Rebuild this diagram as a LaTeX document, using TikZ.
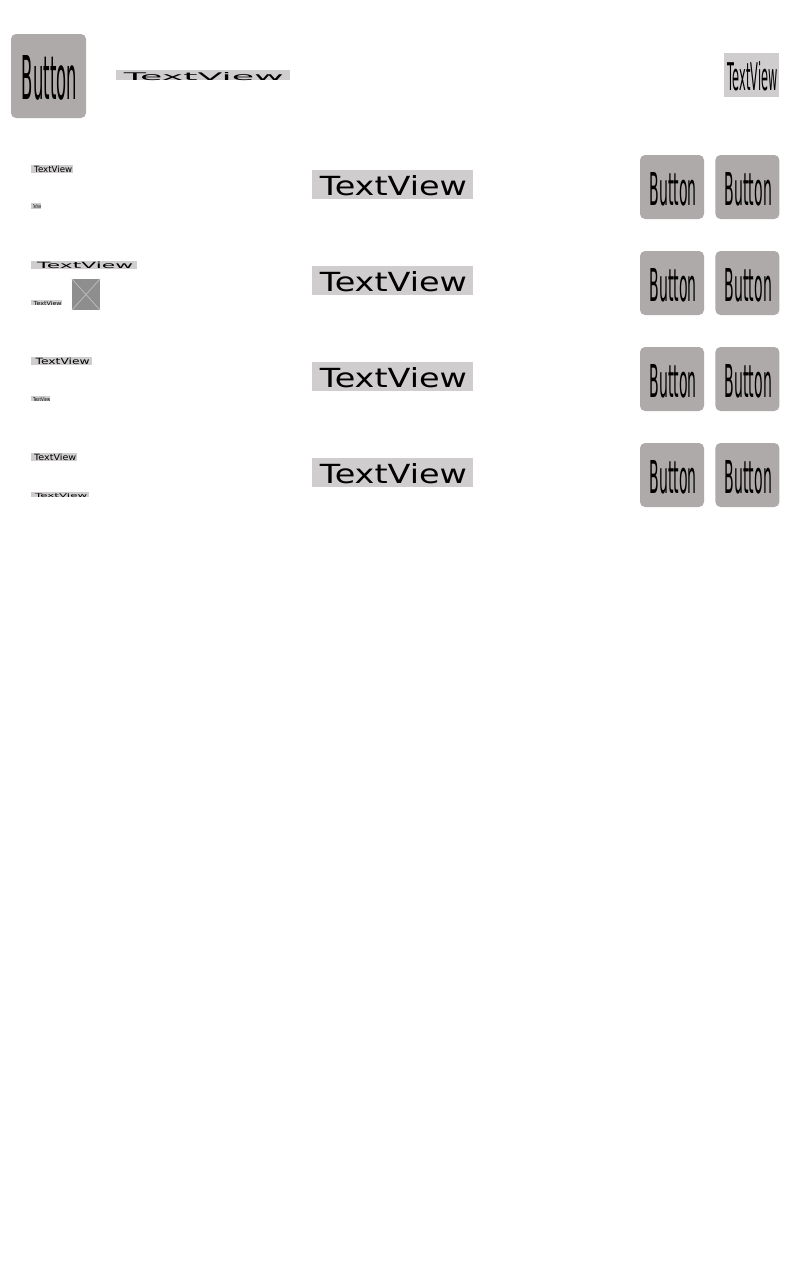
\documentclass[tikz,border=0pt]{standalone}
\usepackage{fontspec}
\setmainfont{DejaVu Sans}
\usetikzlibrary{positioning}
\definecolor{buttongray}{HTML}{AEAAA9}
\definecolor{textgray}{HTML}{CFCDCD}
\definecolor{imagegray}{HTML}{8E8E8E}
\definecolor{crossgray}{HTML}{BEBEBE}
\tikzset{textview/.style={
    rectangle,inner sep=0pt,fill=textgray}}
\tikzset{buttonview/.style={
    rectangle,inner sep=0pt,rounded corners=5pt,fill=buttongray,
    minimum width=64pt,minimum height=64pt}}
\tikzset{imageview/.style={
    rectangle,inner sep=0pt,fill=imagegray,
    minimum width=28pt,minimum height=31pt}}
% the optional argument moves the text down inside its box
\newcommand{\squeezed}[4][1]{\hspace*{1pt}\raisebox{-#1pt}[\height][0pt]{\resizebox{#2pt}{#3pt}{#4}}\hspace*{-1pt}}

\begin{document}
\begin{tikzpicture}[x=1pt,y=-1pt]
  \useasboundingbox (0,0) rectangle (800,1280);

  % top row
  \node (topbutton) [buttonview,minimum width=75pt,minimum height=84pt] at (48.5,76) {\squeezed[1.5]{55}{44}{Button}};
  \node (toptext)   [textview,minimum width=174pt,minimum height=10pt] at (203,75)   {\squeezed{160}{8}{TextView}};
  \node (sidetext)  [textview,minimum width=55pt,minimum height=44pt] at (751.5,75)  {\squeezed{50}{29}{TextView}};

  % left column
  \node (lefta) [textview,minimum width=42pt,minimum height=8pt,anchor=west]  at (31,169)   {\squeezed[0.3]{38}{6.5}{TextView}};
  \node (leftb) [textview,minimum width=10pt,minimum height=6pt,anchor=west]  at (31,206)   {\squeezed[0.5]{8}{4}{TextView}};
  \node (leftc) [textview,minimum width=106pt,minimum height=8pt,anchor=west] at (31,265)   {\squeezed[0.3]{96}{6.5}{TextView}};
  \node (leftd) [textview,minimum width=31pt,minimum height=5pt,anchor=west]  at (31,302.5) {\squeezed[0.5]{28}{4}{TextView}};
  \node (lefte) [textview,minimum width=61pt,minimum height=8pt,anchor=west]  at (31,361)   {\squeezed[0.3]{54}{6.5}{TextView}};
  \node (leftf) [textview,minimum width=19pt,minimum height=5pt,anchor=west]  at (31,398.5) {\squeezed[0.5]{17}{4}{TextView}};
  \node (leftg) [textview,minimum width=46pt,minimum height=8pt,anchor=west]  at (31,457)   {\squeezed[0.3]{42}{6.5}{TextView}};
  \node (lefth) [textview,minimum width=58pt,minimum height=5pt,anchor=west]  at (31,494.5) {\squeezed[0.5]{52}{4}{TextView}};

  \node (picture) [imageview] at (86,294.5) {};
  \draw [crossgray,line width=0.7pt] (picture.north west) -- (picture.south east);
  \draw [crossgray,line width=0.7pt] (picture.north east) -- (picture.south west);

  % repeated rows
  \foreach \row/\ypos in {a/0,b/96,c/192,d/288} {
    \node (midtext\row) [textview,minimum width=161pt,minimum height=29pt] at (392.5,184.5+\ypos) {\squeezed{147}{20}{TextView}};
    \node (first\row)   [buttonview] at (672,187+\ypos) {\squeezed[1.5]{47}{33}{Button}};
    \node (second\row)  [buttonview,right=11pt of first\row] {\squeezed[1.5]{47}{33}{Button}};
  }

\end{tikzpicture}
\end{document}
